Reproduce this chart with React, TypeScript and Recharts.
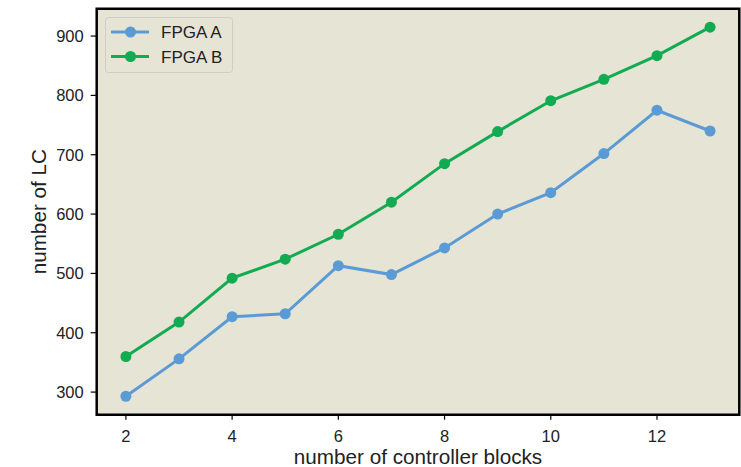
import React from 'react';
import {
  LineChart,
  Line,
  XAxis,
  YAxis,
  CartesianGrid,
  ReferenceArea,
  Legend,
} from 'recharts';

// Logic-cell usage per number of controller blocks
const blocks = [2, 3, 4, 5, 6, 7, 8, 9, 10, 11, 12, 13];
const fpgaA = [293, 356, 427, 432, 513, 498, 543, 600, 636, 702, 775, 740];
const fpgaB = [360, 418, 492, 524, 566, 620, 685, 739, 791, 827, 867, 915];
const seriesNames = ['FPGA A', 'FPGA B'];
const xTicks = [2, 4, 6, 8, 10, 12];
const yTicks = [300, 400, 500, 600, 700, 800, 900];

const COLOR_A = '#5b9bd5';
const COLOR_B = '#13ab52';
const PLOT_BG = '#e6e4d5';
const FONT = '"Liberation Sans", Arial, Helvetica, sans-serif';

const data = blocks.map((n, i) => ({ blocks: n, a: fpgaA[i], b: fpgaB[i] }));

// 5% padding around the data range on each axis
const pad = (lo: number, hi: number): [number, number] => {
  const m = (hi - lo) * 0.05;
  return [lo - m, hi + m];
};
const xDomain = pad(Math.min(...blocks), Math.max(...blocks));
const yDomain = pad(
  Math.min(...fpgaA, ...fpgaB),
  Math.max(...fpgaA, ...fpgaB)
);

const LegendBox = () => {
  const rows = [
    { name: seriesNames[0], color: COLOR_A },
    { name: seriesNames[1], color: COLOR_B },
  ];
  return (
    <svg width={128} height={56} style={{ display: 'block' }}>
      <rect
        x={0.5}
        y={0.5}
        width={127}
        height={55}
        rx={3}
        fill={PLOT_BG}
        stroke="#cfcdc4"
        strokeWidth={1}
      />
      {rows.map((r, i) => {
        const cy = 15 + i * 24.5;
        return (
          <g key={r.name}>
            <line x1={6} x2={44} y1={cy} y2={cy} stroke={r.color} strokeWidth={3} />
            <circle cx={25.5} cy={cy} r={5.5} fill={r.color} />
            <text
              x={56}
              y={cy}
              dy="0.36em"
              fontSize={17}
              fontFamily={FONT}
              fill="#222"
            >
              {r.name}
            </text>
          </g>
        );
      })}
    </svg>
  );
};

export default function App() {
  return (
    <div style={{ position: 'absolute', left: 0, top: 0, background: '#fff' }}>
      <LineChart
        width={741}
        height={467}
        data={data}
        margin={{ top: 8.7, right: 1.7, left: 36.7, bottom: 22.3 }}
      >
        <CartesianGrid
          horizontal={false}
          vertical={false}
          fill={PLOT_BG}
          fillOpacity={1}
        />
        <XAxis
          type="number"
          dataKey="blocks"
          domain={xDomain}
          ticks={xTicks}
          allowDataOverflow
          height={30}
          axisLine={false}
          tickSize={5}
          tickMargin={11}
          tickLine={{ stroke: '#000', strokeWidth: 1.2 }}
          tick={{ fill: '#222', fontSize: 16.5, fontFamily: FONT }}
          label={{
            value: 'number of controller blocks',
            position: 'bottom',
            offset: 4.5,
            fill: '#222',
            fontSize: 20.7,
            fontFamily: FONT,
          }}
        />
        <YAxis
          type="number"
          domain={yDomain}
          ticks={yTicks}
          allowDataOverflow
          width={60}
          axisLine={false}
          tickSize={6}
          tickMargin={7}
          tickLine={{ stroke: '#000', strokeWidth: 1.2 }}
          tick={{ fill: '#222', fontSize: 16.5, fontFamily: FONT }}
          label={{
            value: 'number of LC',
            angle: -90,
            position: 'insideLeft',
            offset: 2,
            fill: '#222',
            fontSize: 20.7,
            fontFamily: FONT,
            style: { textAnchor: 'middle' },
          }}
        />
        <Legend
          layout="horizontal"
          verticalAlign="middle"
          align="center"
          wrapperStyle={{ top: 16.5, left: 104.5, width: 128, height: 56 }}
          content={() => <LegendBox />}
        />
        <Line
          type="linear"
          dataKey="a"
          name={seriesNames[0]}
          stroke={COLOR_A}
          strokeWidth={3}
          dot={{ r: 5.5, fill: COLOR_A, stroke: 'none' }}
          activeDot={false}
          isAnimationActive={false}
        />
        <Line
          type="linear"
          dataKey="b"
          name={seriesNames[1]}
          stroke={COLOR_B}
          strokeWidth={3}
          dot={{ r: 5.5, fill: COLOR_B, stroke: 'none' }}
          activeDot={false}
          isAnimationActive={false}
        />
        <ReferenceArea
          x1={xDomain[0]}
          x2={xDomain[1]}
          y1={yDomain[0]}
          y2={yDomain[1]}
          fill="none"
          stroke="#000"
          strokeWidth={2.5}
          ifOverflow="visible"
        />
      </LineChart>
    </div>
  );
}
